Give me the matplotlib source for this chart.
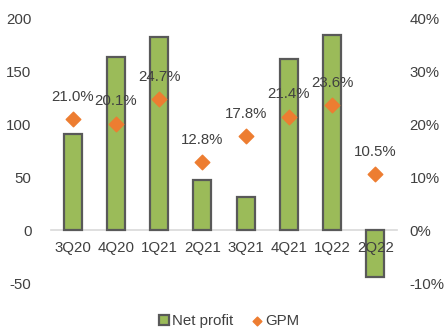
import numpy as np
import matplotlib.pyplot as plt

plt.rcParams['font.family'] = ['Liberation Sans', 'DejaVu Sans']
plt.rcParams['axes.unicode_minus'] = False

quarters = ["3Q20", "4Q20", "1Q21", "2Q21", "3Q21", "4Q21", "1Q22", "2Q22"]
net_profit = [91, 163, 182, 47, 31, 161, 184, -44]
gpm = [21.0, 20.1, 24.7, 12.8, 17.8, 21.4, 23.6, 10.5]

txt = "#404040"
fs = 10.8

fig = plt.figure(figsize=(4.45, 3.3), dpi=100)
ax = fig.add_axes([0.1146, 0.1424, 0.7774, 0.8026])
x = np.arange(len(quarters))

ax.bar(x, net_profit, width=0.42, color="#9BBB59", edgecolor="#595959",
       linewidth=1.6, label="Net profit", zorder=1)
ax.set_axisbelow(False)
ax.set_xlim(-0.5, len(quarters) - 0.5)
ax.set_ylim(-50, 200)
ax.set_yticks([-50, 0, 50, 100, 150, 200])
ax.tick_params(axis="y", length=0, pad=14, labelsize=fs, labelcolor=txt)

# category labels sit right under the zero line
for s in ["top", "right", "left"]:
    ax.spines[s].set_visible(False)
ax.spines["bottom"].set_position(("data", 0))
ax.spines["bottom"].set_color("#D9D9D9")
ax.spines["bottom"].set_linewidth(1.2)
ax.spines["bottom"].set_zorder(0.5)
ax.set_xticks(x)
ax.set_xticklabels(quarters)
ax.tick_params(axis="x", length=0, pad=8, labelsize=fs, labelcolor=txt)

ax2 = ax.twinx()
ax2.scatter(x, gpm, marker="D", s=55, color="#ED7D31", zorder=3, label="GPM")
ax2.set_ylim(-10, 40)
ax2.set_yticks([-10, 0, 10, 20, 30, 40])
ax2.set_yticklabels([f"{v}%" for v in [-10, 0, 10, 20, 30, 40]])
ax2.tick_params(axis="y", length=0, pad=9, labelsize=fs, labelcolor=txt)
for s in ax2.spines.values():
    s.set_visible(False)

for xi, g in zip(x, gpm):
    ax2.annotate(f"{g:.1f}%", (xi, g), xytext=(0, 16), textcoords="offset points",
                 ha="center", va="center", fontsize=fs, color=txt)

h1, l1 = ax.get_legend_handles_labels()
h2, l2 = ax2.get_legend_handles_labels()
fig.legend(h1 + h2, l1 + l2, loc="center", bbox_to_anchor=(0.515, 0.027), ncol=2,
           frameon=False, fontsize=fs, labelcolor=txt, handlelength=0.7,
           handletextpad=0.2, columnspacing=1.2, markerscale=0.6)

fig.savefig("out.png")
